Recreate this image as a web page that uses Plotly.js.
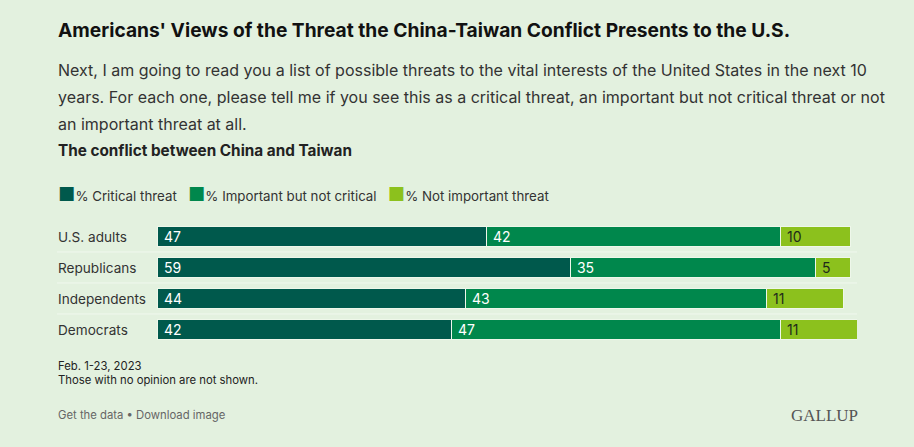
<!DOCTYPE html>
<html>
<head>
<meta charset="utf-8">
<script src="https://cdn.plot.ly/plotly-3.0.1.min.js"></script>
<style>
  html, body { margin: 0; padding: 0; background: #e3f1df; }
  #chart { width: 914px; height: 447px; }
</style>
</head>
<body>
<div id="chart"></div>
<script>
const categories = ["U.S. adults", "Republicans", "Independents", "Democrats"];
const seriesNames = ["% Critical threat", "% Important but not critical", "% Not important threat"];
const criticalThreat = [47, 59, 44, 42];
const importantNotCritical = [42, 35, 43, 47];
const notImportant = [10, 5, 11, 11];
const seriesColors = ["#00594c", "#00874c", "#8cc11d"];
const labelColors = ["#ffffff", "#ffffff", "#1f2a1a"];

const titleText = "Americans' Views of the Threat the China-Taiwan Conflict Presents to the U.S.";
const subtitleLines = [
  "Next, I am going to read you a list of possible threats to the vital interests of the United States in the next 10",
  "years. For each one, please tell me if you see this as a critical threat, an important but not critical threat or not",
  "an important threat at all."
];
const subheadText = "The conflict between China and Taiwan";
const footnoteLines = ["Feb. 1-23, 2023", "Those with no opinion are not shown."];
const linksText = "Get the data \u2022 Download image";
const brandText = "GALLUP";

const FONT = "Inter, 'Noto Sans', sans-serif";
const BG = "#e3f1df";
const W = 914, H = 447;
const M = { l: 157, r: 57, t: 221, b: 102 };
const plotW = W - M.l - M.r, plotH = H - M.t - M.b;
const px = p => (p - M.l) / plotW;
const py = p => (H - M.b - p) / plotH;

const allSeries = [criticalThreat, importantNotCritical, notImportant];
const traces = allSeries.map((vals, i) => ({
  type: "bar",
  orientation: "h",
  name: seriesNames[i],
  y: categories,
  x: vals,
  text: vals.map(v => "\u00a0" + v),
  textposition: "inside",
  insidetextanchor: "start",
  textangle: 0,
  textfont: { family: FONT, size: 14, color: labelColors[i] },
  constraintext: "none",
  marker: { color: seriesColors[i], line: { color: "#eef7ea", width: 1 } },
  hoverinfo: "skip",
  cliponaxis: false
}));

const annotations = [];
const addText = (text, x, y, size, color, opts = {}) => annotations.push(Object.assign({
  text, xref: "paper", yref: "paper", x: px(x), y: py(y),
  xanchor: "left", yanchor: "middle", showarrow: false,
  font: { family: FONT, size, color }
}, opts));

addText("<b>" + titleText + "</b>", 56, 30, 19.2, "#111111");
subtitleLines.forEach((line, i) => addText(line, 56, 70 + 27 * i, 16, "#333333"));
addText("<b>" + subheadText + "</b>", 56, 150, 15.3, "#222222");

// legend built from the series names and colours
const legendHtml = seriesNames.map((n, i) =>
  "<span style='color:" + seriesColors[i] + ";font-size:19px'>\u25A0</span>" + n
).join("   ");
addText(legendHtml, 56, 194, 13.3, "#333333");

// category labels
categories.forEach(c => annotations.push({
  text: c, xref: "paper", yref: "y", x: px(56), y: c,
  xanchor: "left", yanchor: "middle", showarrow: false,
  font: { family: FONT, size: 13.6, color: "#333333" }
}));

footnoteLines.forEach((line, i) => addText(line, 56, 366 + 14 * i, 11.3, "#222222"));
addText(linksText, 56, 415, 11.3, "#666666");
annotations.push({
  text: brandText, xref: "paper", yref: "paper", x: px(860), y: py(415),
  xanchor: "right", yanchor: "middle", showarrow: false,
  font: { family: "'Liberation Serif', 'DejaVu Serif', serif", size: 17, color: "#555555" }
});

// row separators
const shapes = categories.slice(0, -1).map((c, i) => ({
  type: "line", xref: "paper", yref: "y",
  x0: px(57), x1: 1, y0: i + 0.5, y1: i + 0.5,
  line: { color: "#f0f8ee", width: 1 }, layer: "below"
}));

const layout = {
  width: W, height: H,
  margin: M,
  paper_bgcolor: BG, plot_bgcolor: BG,
  barmode: "stack",
  bargap: 0.355,
  showlegend: false,
  xaxis: { range: [0, 100], visible: false, fixedrange: true },
  yaxis: { type: "category", autorange: "reversed", showticklabels: false,
           showgrid: false, zeroline: false, showline: false, ticks: "", fixedrange: true },
  annotations, shapes,
  font: { family: FONT }
};

Plotly.newPlot("chart", traces, layout, { displayModeBar: false, staticPlot: true });
</script>
</body>
</html>
